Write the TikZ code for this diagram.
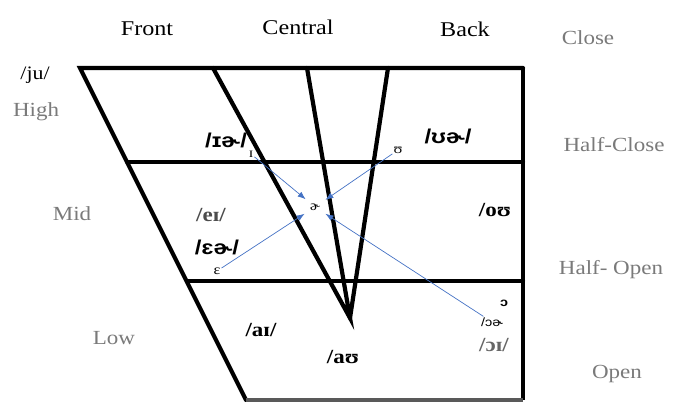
\documentclass[tikz,border=0pt]{standalone}
\usepackage{fontspec}
\setmainfont[FakeStretch=1.15]{Liberation Serif}
\newfontfamily\ipasans[FakeStretch=1.2]{Liberation Sans}
\usetikzlibrary{arrows.meta,positioning}
\definecolor{ArrowBlue}{HTML}{4472C4}
\definecolor{LabelGray}{HTML}{7A7A7A}

\begin{document}
\begin{tikzpicture}[x=1pt, y=-1pt,
  edge/.style={line width=4.2pt, line cap=round},
  head/.style={font=\fontsize{21}{24}\selectfont, inner sep=0pt},
  side/.style={font=\fontsize{20}{24}\selectfont, text=LabelGray, inner sep=0pt},
  diph/.style={font=\ipasans\bfseries\fontsize{20}{22}\selectfont, inner sep=0pt},
  diphs/.style={font=\bfseries\fontsize{20}{22}\selectfont, inner sep=0pt},
  tiny/.style={font=\fontsize{14}{15}\selectfont, inner sep=1pt},
  arr/.style={-{Latex[length=8pt,width=6pt]}, line width=0.7pt, ArrowBlue, shorten >=5pt}
]
\useasboundingbox (0,0) rectangle (674,403);
% chart frame
\coordinate (tl) at (80,68);
\coordinate (tr) at (523,68);
\coordinate (br) at (523,400);
\coordinate (bl) at (246,400);
\coordinate (hcL) at (127,162);
\coordinate (hcR) at (523,162);
\coordinate (hoL) at (187,281);
\coordinate (hoR) at (523,281);
\coordinate (v) at (350,318);
\coordinate (c1) at (213,68);
\coordinate (c2) at (307,68);
\coordinate (c3) at (388,68);
\draw[edge] (tr) -- (tl) -- (bl);
\draw[line width=3.4pt] (tr) -- (br);
\draw[line width=3.5pt, black!65] (bl) -- (br);
\draw[edge] (hcL) -- (hcR);
\draw[edge] (hoL) -- (hoR);
\draw[edge] (c1) -- (v) -- (c2);
\draw[edge] (c3) -- (v);
% column and row labels
\node[head] (front) at (147,29) {Front};
\node[head] (central) at (298,27) {Central};
\node[head] (back) at (465,29) {Back};
\node[side] (close) at (588,38) {Close};
\node[side] (hclose) at (614,145) {Half-Close};
\node[side] (hopen) at (611,270) {Half- Open};
\node[side] (open) at (617,374) {Open};
\node[head, font=\fontsize{19}{22}\selectfont] (ju) at (35,75) {/ju/};
\node[side] (high) at (36,112) {High};
\node[side] (mid) at (72,214) {Mid};
\node[side] (low) at (114,338) {Low};
% diphthongs
\node[diph] (ia) at (226,140) {/ɪɚ/};
\node[diph] (ua) at (448,136) {/ʊɚ/};
\node[diphs, text=black!70] (ei) at (211,215) {/eɪ/};
\node[diph] (ea) at (217,247) {/ɛɚ/};
\node[diphs] (ou) at (495,210) {/oʊ};
\node[diphs] (ai) at (261,330) {/aɪ/};
\node[diphs] (au) at (343,357) {/aʊ};
\node[diphs, text=black!60] (oi) at (494,345) {/ɔɪ/};
\node[tiny, font=\ipasans\fontsize{12}{13}\selectfont] (oa) at (492,322) {/ɔɚ};
\node[tiny, font=\ipasans\bfseries\fontsize{12}{13}\selectfont] (o) at (504,303) {ɔ};
% glide start and end points
\node[tiny] (i) at (251,154) {ɪ};
\node[tiny] (u) at (398,150) {ʊ};
\node[tiny] (e) at (217,271) {ɛ};
\node[tiny] (schwa) at (315,207) {ɚ};
\draw[arr] (i) -- (schwa);
\draw[arr] (u) -- (schwa);
\draw[arr] (e) -- (schwa);
\draw[arr] (oa) -- (schwa);
\end{tikzpicture}
\end{document}
